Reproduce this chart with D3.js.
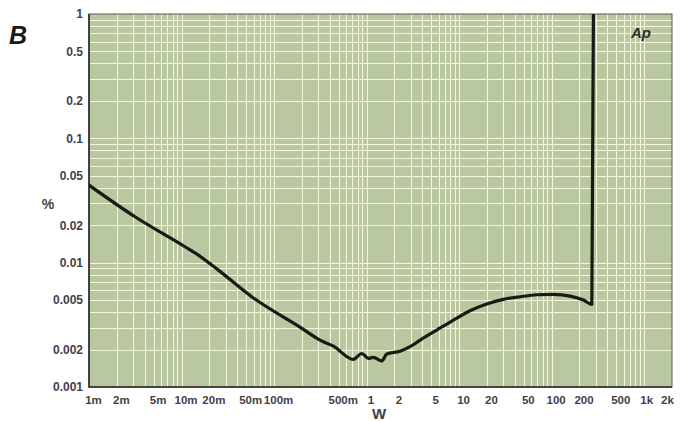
<!DOCTYPE html>
<html>
<head>
<meta charset="utf-8">
<script src="https://cdn.jsdelivr.net/npm/d3@7/dist/d3.min.js"></script>
<style>
  html, body { margin: 0; padding: 0; background: #ffffff; }
  svg { display: block; }
  text { font-family: "Liberation Sans", Arial, sans-serif; }
</style>
</head>
<body>
<svg id="chart" width="680" height="421"></svg>
<script>
// THD+N (%) versus output power (W)
const powerW = [0.001, 0.00314, 0.0109, 0.0152, 0.025, 0.0574, 0.2, 0.314, 0.438, 0.72,
                0.887, 1.046, 1.184, 1.459, 1.652, 2.3, 2.95, 3.79, 5.74, 8.68,
                13.1, 19.9, 30.1, 45.6, 69.2, 104.6, 158.5, 220.8, 272, 283];
const thdPct = [0.042, 0.0234, 0.01343, 0.0115, 0.00871, 0.00532, 0.00296, 0.00238, 0.00213, 0.00167,
                0.00186, 0.0017, 0.00173, 0.00162, 0.00184, 0.00194, 0.00211, 0.00238, 0.00287, 0.00345,
                0.0041, 0.00465, 0.00507, 0.00532, 0.00552, 0.00556, 0.00538, 0.005, 0.00462, 1.0];

const xTickValues = [0.001, 0.002, 0.005, 0.01, 0.02, 0.05, 0.1, 0.5, 1, 2, 5, 10, 20, 50, 100, 200, 500, 1000, 2000];
const xTickLabels = ["1m", "2m", "5m", "10m", "20m", "50m", "100m", "500m", "1", "2", "5", "10", "20", "50", "100", "200", "500", "1k", "2k"];
const yTickValues = [1, 0.5, 0.2, 0.1, 0.05, 0.02, 0.01, 0.005, 0.002, 0.001];
const yTickLabels = ["1", "0.5", "0.2", "0.1", "0.05", "0.02", "0.01", "0.005", "0.002", "0.001"];

const svg = d3.select("#chart");
const plot = { left: 89, right: 672, top: 14, bottom: 387 };

const x = d3.scaleLog().domain([0.001, 2000]).range([plot.left, plot.right]);
const y = d3.scaleLog().domain([0.001, 1]).range([plot.bottom, plot.top]);

// plot background
svg.append("rect")
  .attr("x", plot.left).attr("y", plot.top)
  .attr("width", plot.right - plot.left).attr("height", plot.bottom - plot.top)
  .attr("fill", "#b9c8a1");

// grid: every 1..9 step inside each decade
function logGrid(domain) {
  const out = [];
  const lo = Math.round(Math.log10(domain[0])), hi = Math.round(Math.log10(domain[1]));
  for (let e = lo; e <= hi; e++) {
    for (let m = 1; m <= 9; m++) {
      const v = m * Math.pow(10, e);
      if (v > domain[0] * 1.0001 && v < domain[1] * 0.9999) out.push(v);
    }
  }
  return out;
}
const grid = svg.append("g").attr("stroke", "#f3f7dc").attr("stroke-width", 1);
grid.selectAll("line.v").data(logGrid(x.domain())).join("line")
  .attr("class", "v")
  .attr("x1", d => Math.round(x(d)) + 0.5).attr("x2", d => Math.round(x(d)) + 0.5)
  .attr("y1", plot.top).attr("y2", plot.bottom);
grid.selectAll("line.h").data(logGrid(y.domain())).join("line")
  .attr("class", "h")
  .attr("y1", d => Math.round(y(d)) + 0.5).attr("y2", d => Math.round(y(d)) + 0.5)
  .attr("x1", plot.left).attr("x2", plot.right);

// frame
svg.append("rect")
  .attr("x", plot.left).attr("y", plot.top)
  .attr("width", plot.right - plot.left).attr("height", plot.bottom - plot.top)
  .attr("fill", "none").attr("stroke", "#5a5a55").attr("stroke-width", 1);
svg.append("path")
  .attr("d", `M${plot.left},${plot.top}V${plot.bottom}H${plot.right}`)
  .attr("fill", "none").attr("stroke", "#2a2a28").attr("stroke-width", 1.6);

// curve
svg.append("clipPath").attr("id", "clip").append("rect")
  .attr("x", plot.left).attr("y", plot.top)
  .attr("width", plot.right - plot.left).attr("height", plot.bottom - plot.top);
const line = d3.line().x(d => x(d[0])).y(d => y(d[1])).curve(d3.curveMonotoneX);
svg.append("path")
  .datum(d3.zip(powerW, thdPct))
  .attr("clip-path", "url(#clip)")
  .attr("d", line)
  .attr("fill", "none").attr("stroke", "#171c12").attr("stroke-width", 3.2)
  .attr("stroke-linejoin", "round").attr("stroke-linecap", "round");

// axes (labels only; grid carries the tick marks)
const xAxis = d3.axisBottom(x).tickValues(xTickValues)
  .tickFormat((d, i) => xTickLabels[i]).tickSize(0).tickPadding(0);
const gx = svg.append("g").attr("transform", `translate(0,${plot.bottom})`).call(xAxis);
gx.select(".domain").remove();
gx.selectAll("text")
  .attr("y", 9).attr("dy", "0.71em")
  .attr("dx", (d, i) => i === xTickLabels.length - 1 ? -5 : (i === xTickLabels.length - 2 ? 2 : 4))
  .attr("fill", "#3f3f4c").style("font-size", "11.5px").style("font-weight", "bold");

const yAxis = d3.axisLeft(y).tickValues(yTickValues)
  .tickFormat((d, i) => yTickLabels[i]).tickSize(0).tickPadding(6);
const gy = svg.append("g").attr("transform", `translate(${plot.left},0)`).call(yAxis);
gy.select(".domain").remove();
gy.selectAll("text")
  .attr("fill", "#3f3f4c").style("font-size", "12px").style("font-weight", "bold");

// axis titles
svg.append("text").attr("x", 48).attr("y", 209).attr("text-anchor", "middle")
  .attr("fill", "#3f3f4c").style("font-size", "14px").style("font-weight", "bold").text("%");
svg.append("text").attr("x", 379).attr("y", 419).attr("text-anchor", "middle")
  .attr("fill", "#3f3f4c").style("font-size", "15px").style("font-weight", "bold").text("W");

// panel letter and analyzer mark
svg.append("text").attr("x", 9).attr("y", 44)
  .attr("fill", "#1a1a1a").style("font-size", "25px").style("font-weight", "bold").style("font-style", "italic").text("B");
svg.append("text").attr("x", 631).attr("y", 38)
  .attr("fill", "#2f2f2f").style("font-size", "15px").style("font-weight", "bold").style("font-style", "italic").text("Ap");
</script>
</body>
</html>
